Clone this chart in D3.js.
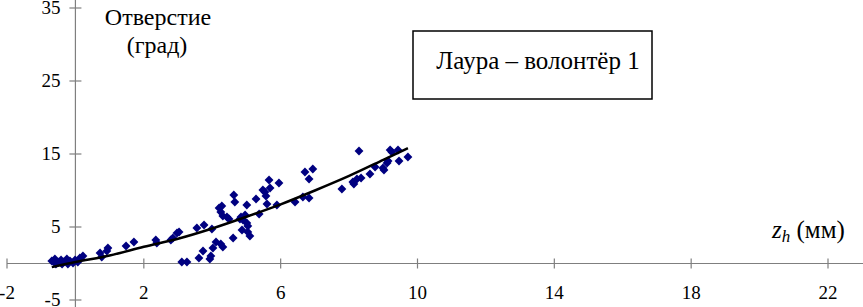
<!DOCTYPE html>
<html>
<head>
<meta charset="utf-8">
<script src="https://cdn.jsdelivr.net/npm/d3@7"></script>
<style>
  body { margin: 0; background: #fff; }
</style>
</head>
<body>
<svg id="chart" width="863" height="307"></svg>
<script>
// points: z_h (mm) vs opening (deg)
var zh = [-0.69, -0.60, -0.51, -0.42, -0.34, -0.25, -0.16, -0.07, -0.57, -0.39, -0.22, -0.01, 0.07, 0.13, 0.22,
  0.72, 0.77, 0.95, 0.92, 1.48, 1.71, 2.35, 2.38, 2.79, 2.85, 2.97, 3.03, 3.55, 3.76, 3.99,
  3.11, 3.26, 3.61, 3.73, 3.93, 3.96, 4.02, 4.11, 4.25, 4.31, 4.61,
  4.20, 4.25, 4.31, 4.43, 4.49, 4.28, 4.63, 4.66, 4.84, 4.81, 4.90, 4.96, 5.01, 5.04, 5.04, 5.10, 4.87,
  5.01, 5.28, 5.37, 5.48, 5.54, 5.57, 5.66, 5.69, 5.60, 5.95, 5.89, 6.42, 6.65, 6.83, 6.71, 6.94, 6.83,
  7.79, 8.29, 8.11, 8.14, 8.23, 8.35, 8.61, 8.76, 8.99, 9.02, 9.11, 9.14, 9.20, 9.25, 9.43, 9.46, 9.72];
var opening = [0.34, 0.62, 0.21, 0.48, 0.21, 0.62, 0.34, 0.07, -0.07, -0.07, -0.07, 0.48, 0.21, 0.75, 1.03,
  1.44, 0.89, 2.12, 1.71, 2.40, 2.95, 3.22, 2.81, 3.22, 3.49, 4.18, 4.32, 4.86, 5.27, 4.73,
  0.21, 0.21, 0.75, 1.71, 0.62, 1.03, 2.12, 2.95, 2.67, 2.26, 3.49,
  7.60, 7.05, 6.51, 6.37, 6.10, 7.88, 9.38, 8.42, 6.37, 6.10, 5.96, 6.64, 5.55, 5.14, 4.32, 3.77, 4.59,
  8.01, 8.84, 6.78, 10.07, 9.79, 9.25, 11.44, 10.34, 8.15, 11.03, 8.01, 8.42, 9.11, 8.97, 12.53, 12.95, 11.58,
  10.21, 15.41, 11.16, 10.89, 11.58, 11.71, 12.26, 13.22, 13.08, 12.81, 13.77, 14.04, 15.55, 15.27, 15.55, 14.04, 14.59];

// trend curve, read at a few x positions
var curveX = [-0.69, 0, 1, 2, 3, 4, 5, 6, 7, 8, 9, 9.72];
var curveY = [-0.5, 0.2, 1.1, 2.3, 3.4, 4.8, 6.4, 8.1, 10.0, 12.0, 14.2, 15.8];

var xTicks = [-2, 2, 6, 10, 14, 18, 22];
var yTicks = [-5, 5, 15, 25, 35];

// no generic fallback: "serif" maps to a sans face here
var serif = "'Liberation Serif'";
var svg = d3.select("#chart");

var x = d3.scaleLinear().domain([-2, 22]).range([7, 828]);
var y = d3.scaleLinear().domain([-5, 35]).range([300, 8]);

var axisColor = "#7f7f7f";

// x axis through zero
var xAxis = svg.append("g").attr("transform", "translate(0," + y(0) + ")");
xAxis.append("line")
  .attr("x1", x(-2)).attr("x2", 863)
  .attr("stroke", axisColor).attr("stroke-width", 1.2);
xAxis.selectAll(".xt").data(xTicks).enter().append("line")
  .attr("x1", function(d){return x(d)}).attr("x2", function(d){return x(d)})
  .attr("y1", -5).attr("y2", 5)
  .attr("stroke", axisColor).attr("stroke-width", 1.2);
xAxis.selectAll(".xl").data(xTicks).enter().append("text")
  .attr("x", function(d){return x(d)})
  .attr("y", 35)
  .attr("text-anchor", "middle")
  .style("font-family", serif)
  .style("font-size", "19px")
  .text(function(d){return d});

// y axis through zero
var yAxis = svg.append("g").attr("transform", "translate(" + x(0) + ",0)");
yAxis.append("line")
  .attr("y1", 0).attr("y2", 307)
  .attr("stroke", axisColor).attr("stroke-width", 1.2);
yAxis.selectAll(".yt").data(yTicks).enter().append("line")
  .attr("y1", function(d){return y(d)}).attr("y2", function(d){return y(d)})
  .attr("x1", -6).attr("x2", 6)
  .attr("stroke", axisColor).attr("stroke-width", 1.2);
yAxis.selectAll(".yl").data(yTicks).enter().append("text")
  .attr("x", -15)
  .attr("y", function(d){return y(d) + 6})
  .attr("text-anchor", "end")
  .style("font-family", serif)
  .style("font-size", "19px")
  .text(function(d){return d});

// points
var pts = zh.map(function(d, i){return [d, opening[i]]});
svg.append("g").selectAll("path").data(pts).enter().append("path")
  .attr("d", d3.symbol().type(d3.symbolDiamond2).size(50))
  .attr("transform", function(d){return "translate(" + x(d[0]) + "," + y(d[1]) + ")"})
  .attr("fill", "#000080");

// trend curve
var line = d3.line()
  .x(function(d){return x(d[0])})
  .y(function(d){return y(d[1])})
  .curve(d3.curveMonotoneX);
svg.append("path")
  .datum(curveX.map(function(d, i){return [d, curveY[i]]}))
  .attr("d", line)
  .attr("fill", "none")
  .attr("stroke", "#000")
  .attr("stroke-width", 2.5);

// axis titles
svg.append("text").attr("x", 158).attr("y", 25).attr("text-anchor", "middle")
  .style("font-family", serif).style("font-size", "24px").text("Отверстие");
svg.append("text").attr("x", 157).attr("y", 53).attr("text-anchor", "middle")
  .style("font-family", serif).style("font-size", "24px").text("(град)");

var zl = svg.append("text").attr("x", 772).attr("y", 238)
  .style("font-family", serif).style("font-size", "25px");
zl.append("tspan").style("font-style", "italic").text("z");
zl.append("tspan").style("font-style", "italic").style("font-size", "17px").attr("dy", 4).text("h");
zl.append("tspan").attr("dy", -4).text(" (мм)");

// legend box
svg.append("rect").attr("x", 413).attr("y", 31).attr("width", 239).attr("height", 68)
  .attr("fill", "#fff").attr("stroke", "#000").attr("stroke-width", 1.5);
svg.append("text").attr("x", 538).attr("y", 69).attr("text-anchor", "middle")
  .style("font-family", serif).style("font-size", "25px").text("Лаура – волонтёр 1");
</script>
</body>
</html>
